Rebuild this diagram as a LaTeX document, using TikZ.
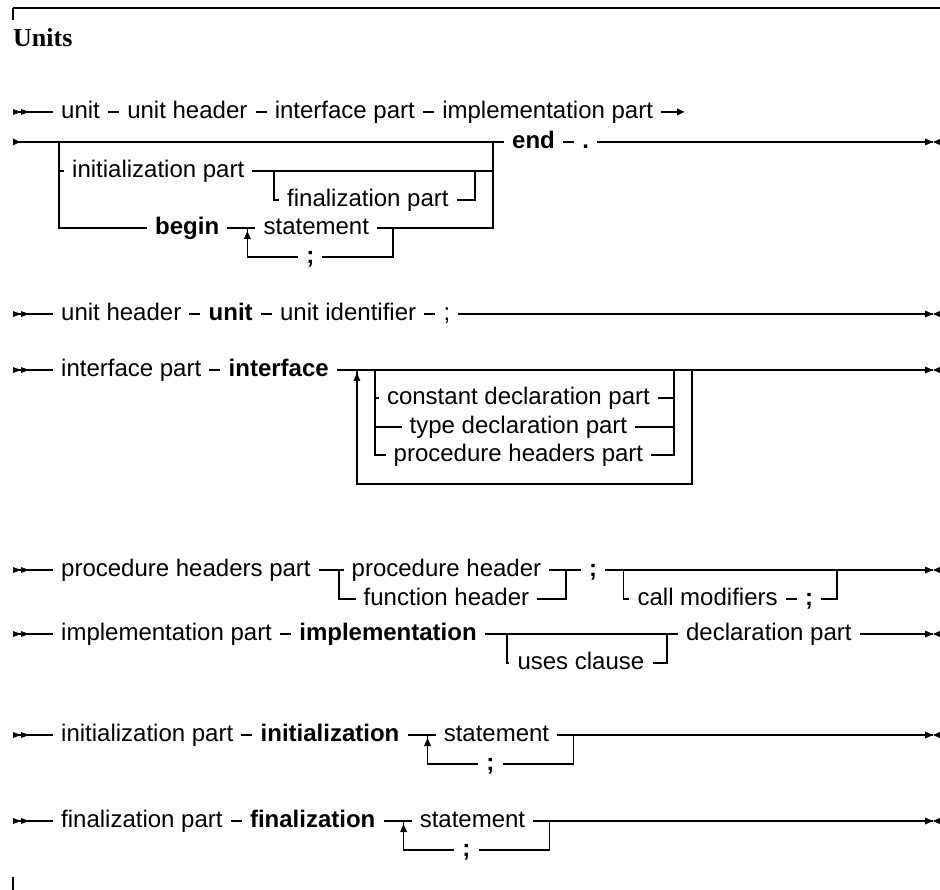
\documentclass[tikz,border=0pt]{standalone}
\usepackage{fontspec}
\setmainfont{Liberation Sans}
\newfontfamily\headfont{Liberation Serif}
\usetikzlibrary{calc}
\newcommand\rrbeg[1]{\fill (#1) ++(0,-3) -- ++(8,3) -- ++(-8,3) -- cycle;
  \fill (#1) ++(8,-3) -- ++(8,3) -- ++(-8,3) -- cycle;}
\newcommand\rrcont[1]{\fill (#1) ++(0,-3.5) -- ++(7,3.5) -- ++(-7,3.5) -- cycle;}
\newcommand\rrfin[1]{\fill (#1) ++(-8,-3.5) -- ++(8,3.5) -- ++(-8,3.5) -- cycle;
  \fill (#1) ++(8,-3.5) -- ++(-8,3.5) -- ++(8,3.5) -- cycle;}
\newcommand\rrup[1]{\fill (#1) ++(0,3) -- ++(-3.5,8) -- ++(7,0) -- cycle;}
\begin{document}
\begin{tikzpicture}[x=1pt,y=-1pt,
  lbl/.style={font=\fontsize{24}{28}\selectfont, inner sep=0pt, text height=17.5pt, text depth=5pt, anchor=west},
  kw/.style={lbl, font=\fontsize{24}{28}\selectfont\bfseries},
  rr/.style={line width=1.7pt},
  thin tick/.style={line width=1.2pt}]
\useasboundingbox (0,0) rectangle (940,890);
% header
\coordinate (tl) at (13,8); \coordinate (tr) at (940,8); \coordinate (tk) at (13,20);
\draw[line width=2.6pt] (tl) -- (tr);
\draw[thin tick] (tl) -- (tk);
\node[font=\headfont\bfseries\fontsize{26}{30}\selectfont, anchor=base west, inner sep=0pt] (title) at (13,47) {Units};
\coordinate (bt1) at (13,877); \coordinate (bt2) at (13,890);
\draw[thin tick] (bt1) -- (bt2);

% ---- unit, line 1
\coordinate (a0) at (13,112);
\node[lbl] (a1) at (61,112) {unit};
\node[lbl] (a2) at ([xshift=27pt]a1.east) {unit header};
\node[lbl] (a3) at ([xshift=27pt]a2.east) {interface part};
\node[lbl] (a4) at ([xshift=27pt]a3.east) {implementation part};
\coordinate (a5) at ([xshift=24pt]a4.east);
\draw[rr] (a0) -- ([xshift=-8pt]a1.west);
\draw[rr] ([xshift=8pt]a1.east) -- ([xshift=-8pt]a2.west);
\draw[rr] ([xshift=8pt]a2.east) -- ([xshift=-8pt]a3.west);
\draw[rr] ([xshift=8pt]a3.east) -- ([xshift=-8pt]a4.west);
\draw[rr] ([xshift=8pt]a4.east) -- (a5);
\rrbeg{a0} \rrcont{a5}

% ---- unit, line 2
\coordinate (b0) at (13,142);
\coordinate (bL) at (59,142);
\coordinate (bR) at (493,142);
\node[kw] (b1) at ([xshift=19pt]bR) {end};
\node[kw] (b2) at ([xshift=27pt]b1.east) {.};
\coordinate (b9) at (933,142);
\draw[rr] (b0) -- ([xshift=-8pt]b1.west);
\draw[rr] ([xshift=8pt]b1.east) -- ([xshift=-8pt]b2.west);
\draw[rr] ([xshift=8pt]b2.east) -- (b9);
\rrcont{b0} \rrfin{b9}
\node[lbl] (b3) at (72,171) {initialization part};
\coordinate (bfL) at (274,171);
\coordinate (bfR) at (475,171);
\node[lbl] (b4) at (287,200) {finalization part};
\node[kw] (b5) at (155,228) {begin};
\coordinate (bJ) at ([xshift=28pt]b5.east);
\node[lbl] (b6) at ([xshift=16pt]bJ) {statement};
\coordinate (bK) at ([xshift=24pt]b6.east);
\node[kw, anchor=center] (b7) at ($(bJ)!0.5!(bK)+(-10,29)$) {;};
\draw[rr] (bL) |- ([xshift=-8pt]b5.west);
\draw[rr] (bL |- b3.west) -- ([xshift=-8pt]b3.west);
\draw[rr] ([xshift=8pt]b3.east) -- (bR |- b3.east);
\draw[rr] (bfL) |- ([xshift=-8pt]b4.west);
\draw[rr] ([xshift=8pt]b4.east) -| (bfR);
\draw[rr] ([xshift=8pt]b5.east) -- ([xshift=-8pt]b6.west);
\draw[rr] ([xshift=8pt]b6.east) -| (bR);
\draw[rr] (bK) |- ([xshift=8pt]b7.east);
\draw[rr] ([xshift=-8pt]b7.west) -| (bJ);
\rrup{bJ}

% ---- unit header
\coordinate (c0) at (13,314);
\node[lbl] (c1) at (61,314) {unit header};
\node[kw] (c2) at ([xshift=27pt]c1.east) {unit};
\node[lbl] (c3) at ([xshift=27pt]c2.east) {unit identifier};
\node[lbl] (c4) at ([xshift=27pt]c3.east) {;};
\coordinate (c9) at (933,314);
\draw[rr] (c0) -- ([xshift=-8pt]c1.west);
\draw[rr] ([xshift=8pt]c1.east) -- ([xshift=-8pt]c2.west);
\draw[rr] ([xshift=8pt]c2.east) -- ([xshift=-8pt]c3.west);
\draw[rr] ([xshift=8pt]c3.east) -- ([xshift=-8pt]c4.west);
\draw[rr] ([xshift=8pt]c4.east) -- (c9);
\rrbeg{c0} \rrfin{c9}

% ---- interface part
\coordinate (d0) at (13,370);
\node[lbl] (d1) at (61,370) {interface part};
\node[kw] (d2) at ([xshift=27pt]d1.east) {interface};
\coordinate (dJ) at ([xshift=28pt]d2.east);
\coordinate (dL) at ([xshift=18pt]dJ);
\coordinate (dR) at (674,370);
\coordinate (dO) at (692,370);
\coordinate (d9) at (933,370);
\node[lbl, anchor=center] (d3) at ($(dL)!0.5!(dR)+(-6,28)$) {constant declaration part};
\node[lbl, anchor=center] (d4) at ($(dL)!0.5!(dR)+(-6,57)$) {type declaration part};
\node[lbl, anchor=center] (d5) at ($(dL)!0.5!(dR)+(-6,85)$) {procedure headers part};
\coordinate (dB) at ($(dO)+(0,114)$);
\draw[rr] (d0) -- ([xshift=-8pt]d1.west);
\draw[rr] ([xshift=8pt]d1.east) -- ([xshift=-8pt]d2.west);
\draw[rr] ([xshift=8pt]d2.east) -- (d9);
\draw[rr] (dL) |- ([xshift=-8pt]d5.west);
\draw[rr] (dL |- d3.west) -- ([xshift=-8pt]d3.west);
\draw[rr] (dL |- d4.west) -- ([xshift=-8pt]d4.west);
\draw[rr] ([xshift=8pt]d3.east) -- (dR |- d3.east);
\draw[rr] ([xshift=8pt]d4.east) -- (dR |- d4.east);
\draw[rr] ([xshift=8pt]d5.east) -| (dR);
\draw[rr] (dO) -- (dB) -| (dJ);
\rrbeg{d0} \rrfin{d9} \rrup{dJ}

% ---- procedure headers part
\coordinate (e0) at (13,570);
\node[lbl] (e1) at (61,570) {procedure headers part};
\coordinate (eJ) at ([xshift=28pt]e1.east);
\coordinate (eR) at (566,570);
\node[lbl, anchor=center] (e2) at ($(eJ)!0.5!(eR)+(-6,0)$) {procedure header};
\node[lbl, anchor=center] (e3) at ($(eJ)!0.5!(eR)+(-6,29)$) {function header};
\node[kw] (e4) at ([xshift=23pt]eR) {;};
\coordinate (eL) at ([xshift=26pt]e4.east);
\node[lbl] (e5) at ($(eL)+(14,29)$) {call modifiers};
\node[kw] (e6) at ([xshift=27pt]e5.east) {;};
\coordinate (eK) at ($(e6.east)+(24,-29)$);
\coordinate (e9) at (933,570);
\draw[rr] (e0) -- ([xshift=-8pt]e1.west);
\draw[rr] ([xshift=8pt]e1.east) -- ([xshift=-8pt]e2.west);
\draw[rr] ([xshift=8pt]e2.east) -- ([xshift=-8pt]e4.west);
\draw[rr] ([xshift=8pt]e4.east) -- (e9);
\draw[rr] (eJ) |- ([xshift=-8pt]e3.west);
\draw[rr] ([xshift=8pt]e3.east) -| (eR);
\draw[rr] (eL) |- ([xshift=-8pt]e5.west);
\draw[rr] ([xshift=8pt]e5.east) -- ([xshift=-8pt]e6.west);
\draw[rr] ([xshift=8pt]e6.east) -| (eK);
\rrbeg{e0} \rrfin{e9}

% ---- implementation part
\coordinate (f0) at (13,634);
\node[lbl] (f1) at (61,634) {implementation part};
\node[kw] (f2) at ([xshift=27pt]f1.east) {implementation};
\coordinate (fJ) at ([xshift=30pt]f2.east);
\coordinate (fK) at ([xshift=160pt]fJ);
\node[lbl, anchor=center] (f3) at ($(fJ)!0.5!(fK)+(-6,29)$) {uses clause};
\node[lbl] (f4) at ([xshift=19pt]fK) {declaration part};
\coordinate (f9) at (933,634);
\draw[rr] (f0) -- ([xshift=-8pt]f1.west);
\draw[rr] ([xshift=8pt]f1.east) -- ([xshift=-8pt]f2.west);
\draw[rr] ([xshift=8pt]f2.east) -- ([xshift=-8pt]f4.west);
\draw[rr] (fJ) |- ([xshift=-8pt]f3.west);
\draw[rr] ([xshift=8pt]f3.east) -| (fK);
\draw[rr] ([xshift=8pt]f4.east) -- (f9);
\rrbeg{f0} \rrfin{f9}

% ---- initialization part
\coordinate (g0) at (13,735);
\node[lbl] (g1) at (61,735) {initialization part};
\node[kw] (g2) at ([xshift=27pt]g1.east) {initialization};
\coordinate (gJ) at ([xshift=28pt]g2.east);
\node[lbl] (g3) at ([xshift=16pt]gJ) {statement};
\coordinate (gK) at ([xshift=24pt]g3.east);
\node[kw, anchor=center] (g4) at ($(gJ)!0.5!(gK)+(-10,29)$) {;};
\coordinate (g9) at (933,735);
\draw[rr] (g0) -- ([xshift=-8pt]g1.west);
\draw[rr] ([xshift=8pt]g1.east) -- ([xshift=-8pt]g2.west);
\draw[rr] ([xshift=8pt]g2.east) -- ([xshift=-8pt]g3.west);
\draw[rr] ([xshift=8pt]g3.east) -- (g9);
\draw[rr] (gK) |- ([xshift=8pt]g4.east);
\draw[rr] ([xshift=-8pt]g4.west) -| (gJ);
\rrbeg{g0} \rrfin{g9} \rrup{gJ}

% ---- finalization part
\coordinate (h0) at (13,821);
\node[lbl] (h1) at (61,821) {finalization part};
\node[kw] (h2) at ([xshift=27pt]h1.east) {finalization};
\coordinate (hJ) at ([xshift=28pt]h2.east);
\node[lbl] (h3) at ([xshift=16pt]hJ) {statement};
\coordinate (hK) at ([xshift=24pt]h3.east);
\node[kw, anchor=center] (h4) at ($(hJ)!0.5!(hK)+(-10,29)$) {;};
\coordinate (h9) at (933,821);
\draw[rr] (h0) -- ([xshift=-8pt]h1.west);
\draw[rr] ([xshift=8pt]h1.east) -- ([xshift=-8pt]h2.west);
\draw[rr] ([xshift=8pt]h2.east) -- ([xshift=-8pt]h3.west);
\draw[rr] ([xshift=8pt]h3.east) -- (h9);
\draw[rr] (hK) |- ([xshift=8pt]h4.east);
\draw[rr] ([xshift=-8pt]h4.west) -| (hJ);
\rrbeg{h0} \rrfin{h9} \rrup{hJ}
\end{tikzpicture}
\end{document}
